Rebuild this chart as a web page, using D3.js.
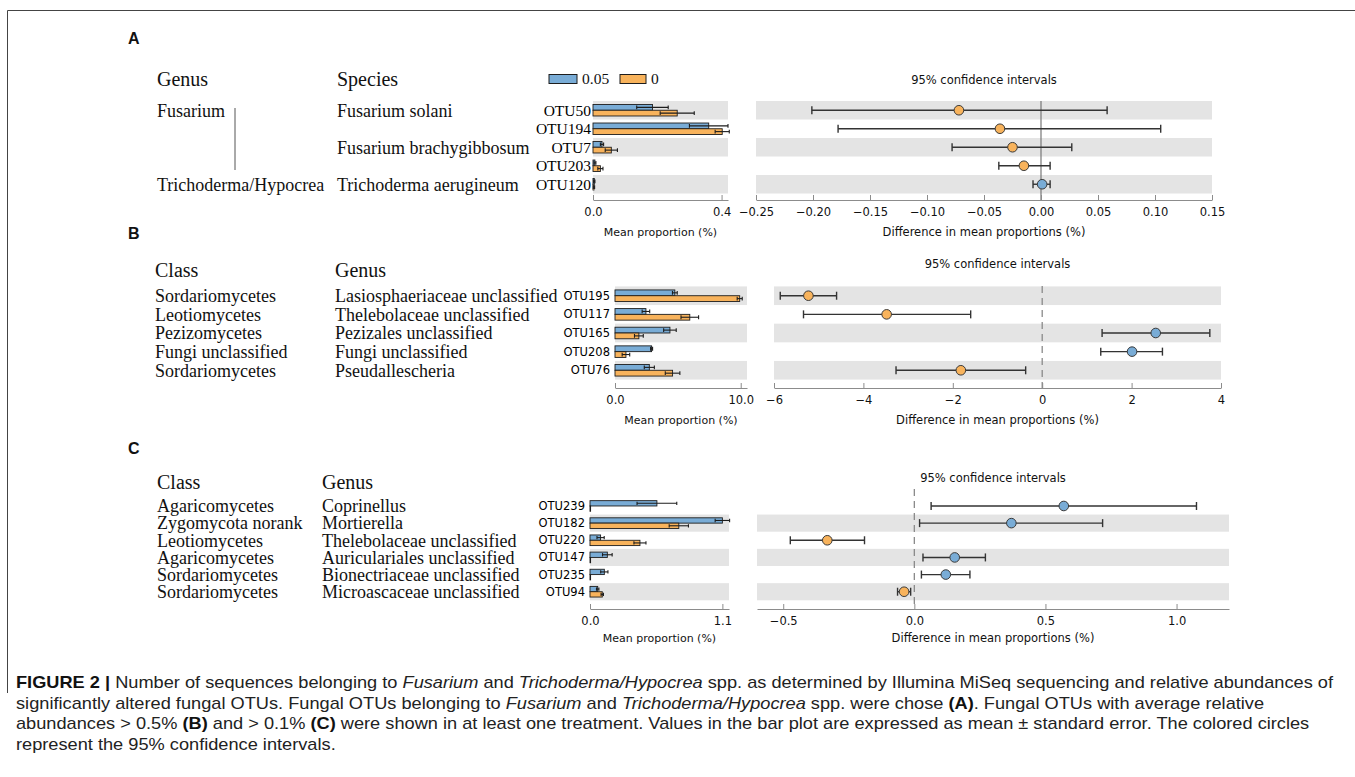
<!DOCTYPE html>
<html>
<head>
<meta charset="utf-8">
<script src="https://cdn.jsdelivr.net/npm/d3@7"></script>
<style>
  body { margin: 0; background: #fff; }
  svg { display: block; }
</style>
</head>
<body>
<svg id="fig" width="1355" height="777"></svg>
<script>
// ---------- Panel A: Fusarium and Trichoderma/Hypocrea OTUs ----------
const aCol1 = ["Fusarium", "", "", "", "Trichoderma/Hypocrea"];
const aCol2 = ["Fusarium solani", "", "Fusarium brachygibbosum", "", "Trichoderma aerugineum"];
const aOTU = ["OTU50", "OTU194", "OTU7", "OTU203", "OTU120"];
const aMean005 = [0.185, 0.360, 0.028, 0.006, 0.004];
const aErr005 = [0.049, 0.060, 0.005, 0.003, 0.002];
const aMean0 = [0.262, 0.402, 0.057, 0.023, 0.003];
const aErr0 = [0.053, 0.022, 0.019, 0.008, 0.002];
const aDiff = [-0.072, -0.036, -0.025, -0.015, 0.001];
const aLow = [-0.201, -0.178, -0.078, -0.037, -0.007];
const aHigh = [0.058, 0.105, 0.027, 0.008, 0.008];
const aBarTicks = [0, 0.4];
const aBarTickLabels = ["0.0", "0.4"];
const aCiTicks = [-0.25, -0.20, -0.15, -0.10, -0.05, 0, 0.05, 0.10, 0.15];
const aCiTickLabels = ["\u22120.25", "\u22120.20", "\u22120.15", "\u22120.10", "\u22120.05", "0.00", "0.05", "0.10", "0.15"];

// ---------- Panel B: OTUs with mean relative abundance > 0.5% ----------
const bCol1 = ["Sordariomycetes", "Leotiomycetes", "Pezizomycetes", "Fungi unclassified", "Sordariomycetes"];
const bCol2 = ["Lasiosphaeriaceae unclassified", "Thelebolaceae unclassified", "Pezizales unclassified", "Fungi unclassified", "Pseudallescheria"];
const bOTU = ["OTU195", "OTU117", "OTU165", "OTU208", "OTU76"];
const bMean005 = [4.76, 2.46, 4.37, 2.91, 2.73];
const bErr005 = [0.19, 0.30, 0.50, 0.08, 0.40];
const bMean0 = [9.92, 5.95, 1.90, 0.87, 4.58];
const bErr0 = [0.20, 0.70, 0.35, 0.30, 0.58];
const bDiff = [-5.23, -3.48, 2.54, 2.01, -1.82];
const bLow = [-5.86, -5.34, 1.34, 1.31, -3.27];
const bHigh = [-4.60, -1.60, 3.75, 2.69, -0.37];
const bBarTicks = [0, 10];
const bBarTickLabels = ["0.0", "10.0"];
const bCiTicks = [-6, -4, -2, 0, 2, 4];
const bCiTickLabels = ["\u22126", "\u22124", "\u22122", "0", "2", "4"];

// ---------- Panel C: OTUs with mean relative abundance > 0.1% ----------
const cCol1 = ["Agaricomycetes", "Zygomycota norank", "Leotiomycetes", "Agaricomycetes", "Sordariomycetes", "Sordariomycetes"];
const cCol2 = ["Coprinellus", "Mortierella", "Thelebolaceae unclassified", "Auriculariales unclassified", "Bionectriaceae unclassified", "Microascaceae unclassified"];
const cOTU = ["OTU239", "OTU182", "OTU220", "OTU147", "OTU235", "OTU94"];
const cMean005 = [0.556, 1.100, 0.088, 0.144, 0.119, 0.064];
const cErr005 = [0.165, 0.060, 0.030, 0.040, 0.030, 0.010];
const cMean0 = [0.004, 0.738, 0.415, 0.003, 0.003, 0.102];
const cErr0 = [0.000, 0.080, 0.050, 0.000, 0.000, 0.010];
const cDiff = [0.570, 0.370, -0.332, 0.154, 0.120, -0.039];
const cLow = [0.064, 0.020, -0.473, 0.033, 0.027, -0.064];
const cHigh = [1.076, 0.718, -0.190, 0.271, 0.212, -0.014];
const cBarTicks = [0, 1.1];
const cBarTickLabels = ["0.0", "1.1"];
const cCiTicks = [-0.5, 0, 0.5, 1.0];
const cCiTickLabels = ["\u22120.5", "0.0", "0.5", "1.0"];

// Treatment legend
const treatments = ["0.05", "0"];

// ---------- styling ----------
const COL_005 = "#79acd6";
const COL_0 = "#f8b35c";
const BAND = "#e4e4e4";
const AXIS = "#8c8c8c";
const SERIF = "'Liberation Serif','Times New Roman',serif";
const SANS = "'DejaVu Sans',sans-serif";

const svg = d3.select("#fig");

// Figure frame (top and left rules)
svg.append("line").attr("x1", 7.5).attr("x2", 1355).attr("y1", 10.5).attr("y2", 10.5)
  .attr("stroke", "#444").attr("stroke-width", 1);
svg.append("line").attr("x1", 7.5).attr("x2", 7.5).attr("y1", 10.5).attr("y2", 693)
  .attr("stroke", "#444").attr("stroke-width", 1);

function drawPanel(d, L) {
  const g = svg.append("g");
  const n = d.otu.length;
  const idx = d3.range(n);
  const y = d3.scaleBand().domain(idx).range(L.rows);
  const bw = y.bandwidth();
  const xb = d3.scaleLinear().domain(L.barDomain).range(L.barRange);
  const xc = d3.scaleLinear().domain(L.ciDomain).range(L.ciRange);
  const shaded = idx.filter(i => (n - 1 - i) % 2 === 0);

  // panel letter
  g.append("text").attr("x", L.letter[0]).attr("y", L.letter[1])
    .attr("font-family", "'Liberation Sans',Arial,sans-serif").attr("font-weight", "bold")
    .attr("font-size", 16).attr("fill", "#111").text(d.letter);

  // column headers
  L.headers.forEach((h, k) => {
    g.append("text").attr("x", h).attr("y", L.headerY).attr("dy", "0.35em")
      .attr("font-family", SERIF).attr("font-size", 20).attr("fill", "#111").text(d.headers[k]);
  });

  // taxonomy columns
  [d.col1, d.col2].forEach((col, k) => {
    g.selectAll(null).data(idx).enter().append("text")
      .attr("x", L.cols[k]).attr("y", i => y(i) + bw / 2).attr("dy", "0.35em")
      .attr("font-family", SERIF).attr("font-size", 18).attr("fill", "#111")
      .text(i => col[i]);
  });

  if (L.bracket) {
    g.append("line").attr("x1", L.bracket[0]).attr("x2", L.bracket[0])
      .attr("y1", L.bracket[1]).attr("y2", L.bracket[2])
      .attr("stroke", "#555").attr("stroke-width", 1);
  }

  // OTU labels
  g.selectAll(null).data(idx).enter().append("text")
    .attr("x", L.otuX).attr("y", i => y(i) + bw / 2).attr("dy", "0.35em")
    .attr("text-anchor", "end")
    .attr("font-family", L.otuSerif ? SERIF : SANS)
    .attr("font-size", L.otuSerif ? 15.5 : 11.5).attr("fill", "#000")
    .text(i => d.otu[i]);

  // ---- mean proportion bar plot ----
  g.selectAll(null).data(shaded).enter().append("rect")
    .attr("x", L.barRange[0]).attr("width", L.barRange[1] - L.barRange[0])
    .attr("y", i => y(i)).attr("height", bw).attr("fill", BAND);

  const bh = bw * 0.31;
  const series = [
    { mean: d.m005, err: d.e005, col: COL_005, off: -bh },
    { mean: d.m0, err: d.e0, col: COL_0, off: 0 }
  ];
  series.forEach(s => {
    const cy = i => y(i) + bw / 2 + s.off;
    g.selectAll(null).data(idx).enter().append("rect")
      .attr("x", xb(0)).attr("y", cy)
      .attr("width", i => Math.max(0.6, xb(s.mean[i]) - xb(0))).attr("height", bh)
      .attr("fill", s.col).attr("stroke", "#1d1d1d").attr("stroke-width", 0.9);
    const eb = g.selectAll(null).data(idx.filter(i => s.err[i] > 0)).enter().append("g")
      .attr("stroke", "#1d1d1d").attr("stroke-width", 1.1);
    eb.append("line")
      .attr("x1", i => xb(Math.max(0, s.mean[i] - s.err[i]))).attr("x2", i => xb(s.mean[i] + s.err[i]))
      .attr("y1", i => cy(i) + bh / 2).attr("y2", i => cy(i) + bh / 2);
    eb.append("line")
      .attr("x1", i => xb(s.mean[i] + s.err[i])).attr("x2", i => xb(s.mean[i] + s.err[i]))
      .attr("y1", i => cy(i) + 1).attr("y2", i => cy(i) + bh - 1);
    eb.append("line")
      .attr("x1", i => xb(Math.max(0, s.mean[i] - s.err[i]))).attr("x2", i => xb(Math.max(0, s.mean[i] - s.err[i])))
      .attr("y1", i => cy(i) + 1).attr("y2", i => cy(i) + bh - 1);
  });

  const barAxis = g.append("g").attr("transform", `translate(0,${L.axisY})`)
    .call(d3.axisBottom(xb).tickValues(d.barTicks).tickFormat((v, k) => d.barTickLabels[k])
      .tickSizeInner(-5).tickSizeOuter(0).tickPadding(8));
  styleAxis(barAxis);
  g.append("text").attr("x", (L.barRange[0] + L.barRange[1]) / 2).attr("y", L.axisY + L.titleGap)
    .attr("dy", "0.35em").attr("text-anchor", "middle")
    .attr("font-family", SANS).attr("font-size", 11).attr("fill", "#111").text("Mean proportion (%)");

  // ---- confidence interval plot ----
  g.selectAll(null).data(shaded).enter().append("rect")
    .attr("x", L.ciRange[0]).attr("width", L.ciRange[1] - L.ciRange[0])
    .attr("y", i => y(i)).attr("height", bw).attr("fill", BAND);

  g.append("line").attr("x1", xc(0)).attr("x2", xc(0))
    .attr("y1", L.zeroTop).attr("y2", L.axisY)
    .attr("stroke", L.zeroDash ? "#8a8a8a" : "#777").attr("stroke-width", L.zeroDash ? 1.3 : 1.2)
    .attr("stroke-dasharray", L.zeroDash ? "7,5" : null);

  const ci = g.selectAll(null).data(idx).enter().append("g")
    .attr("stroke", "#333").attr("stroke-width", 1.4);
  ci.append("line").attr("x1", i => xc(d.low[i])).attr("x2", i => xc(d.high[i]))
    .attr("y1", i => y(i) + bw / 2).attr("y2", i => y(i) + bw / 2);
  ci.append("line").attr("x1", i => xc(d.low[i])).attr("x2", i => xc(d.low[i]))
    .attr("y1", i => y(i) + bw / 2 - 4).attr("y2", i => y(i) + bw / 2 + 4);
  ci.append("line").attr("x1", i => xc(d.high[i])).attr("x2", i => xc(d.high[i]))
    .attr("y1", i => y(i) + bw / 2 - 4).attr("y2", i => y(i) + bw / 2 + 4);
  g.selectAll(null).data(idx).enter().append("circle")
    .attr("cx", i => xc(d.diff[i])).attr("cy", i => y(i) + bw / 2).attr("r", 4.8)
    .attr("fill", i => d.diff[i] > 0 ? COL_005 : COL_0)
    .attr("stroke", "#3a3a3a").attr("stroke-width", 1);

  const ciAxis = g.append("g").attr("transform", `translate(0,${L.axisY})`)
    .call(d3.axisBottom(xc).tickValues(d.ciTicks).tickFormat((v, k) => d.ciTickLabels[k])
      .tickSizeInner(-5).tickSizeOuter(0).tickPadding(8));
  styleAxis(ciAxis);
  g.append("text").attr("x", (L.ciRange[0] + L.ciRange[1]) / 2).attr("y", L.axisY + L.titleGap)
    .attr("dy", "0.35em").attr("text-anchor", "middle")
    .attr("font-family", SANS).attr("font-size", 11.5).attr("fill", "#111").text("Difference in mean proportions (%)");
  g.append("text").attr("x", (L.ciRange[0] + L.ciRange[1]) / 2).attr("y", L.ciTitleY)
    .attr("dy", "0.35em").attr("text-anchor", "middle")
    .attr("font-family", SANS).attr("font-size", 11.5).attr("fill", "#111").text("95% confidence intervals");

  // legend
  if (L.legend) {
    L.legend.forEach((lg, k) => {
      g.append("rect").attr("x", lg[0]).attr("y", L.headerY - 4.5).attr("width", lg[1]).attr("height", 9)
        .attr("fill", k === 0 ? COL_005 : COL_0).attr("stroke", "#1d1d1d").attr("stroke-width", 1);
      g.append("text").attr("x", lg[0] + lg[1] + 5).attr("y", L.headerY).attr("dy", "0.35em")
        .attr("font-family", SERIF).attr("font-size", 15.5).attr("fill", "#111").text(treatments[k]);
    });
  }
}

function styleAxis(ax) {
  ax.select(".domain").attr("stroke", AXIS).attr("stroke-width", 1.2);
  ax.selectAll(".tick line").attr("stroke", AXIS).attr("stroke-width", 1);
  ax.selectAll(".tick text").attr("font-family", SANS).attr("font-size", 11.5).attr("fill", "#111");
}

drawPanel(
  { letter: "A", headers: ["Genus", "Species"], col1: aCol1, col2: aCol2, otu: aOTU,
    m005: aMean005, e005: aErr005, m0: aMean0, e0: aErr0,
    diff: aDiff, low: aLow, high: aHigh,
    barTicks: aBarTicks, barTickLabels: aBarTickLabels, ciTicks: aCiTicks, ciTickLabels: aCiTickLabels },
  { letter: [128, 44], headerY: 79, headers: [157, 337], cols: [157, 337], bracket: [235, 108, 170],
    otuX: 591, otuSerif: true, rows: [101, 193.5],
    barDomain: [0, 0.42], barRange: [593, 728], ciDomain: [-0.25, 0.15], ciRange: [756, 1212],
    axisY: 200, titleGap: 32, zeroTop: 101, zeroDash: false, ciTitleY: 80,
    legend: [[549, 28], [620, 26]] }
);

drawPanel(
  { letter: "B", headers: ["Class", "Genus"], col1: bCol1, col2: bCol2, otu: bOTU,
    m005: bMean005, e005: bErr005, m0: bMean0, e0: bErr0,
    diff: bDiff, low: bLow, high: bHigh,
    barTicks: bBarTicks, barTickLabels: bBarTickLabels, ciTicks: bCiTicks, ciTickLabels: bCiTickLabels },
  { letter: [128, 239], headerY: 270, headers: [155, 335], cols: [155, 335],
    otuX: 610, otuSerif: false, rows: [286.4, 379.6],
    barDomain: [0, 10.5], barRange: [615, 747], ciDomain: [-6, 4], ciRange: [774, 1221],
    axisY: 388, titleGap: 32, zeroTop: 286, zeroDash: true, ciTitleY: 264 }
);

drawPanel(
  { letter: "C", headers: ["Class", "Genus"], col1: cCol1, col2: cCol2, otu: cOTU,
    m005: cMean005, e005: cErr005, m0: cMean0, e0: cErr0,
    diff: cDiff, low: cLow, high: cHigh,
    barTicks: cBarTicks, barTickLabels: cBarTickLabels, ciTicks: cCiTicks, ciTickLabels: cCiTickLabels },
  { letter: [128, 454], headerY: 482, headers: [157, 322], cols: [157, 322],
    otuX: 585, otuSerif: false, rows: [497.4, 600.3],
    barDomain: [0, 1.155], barRange: [590, 729], ciDomain: [-0.6, 1.2], ciRange: [757, 1229],
    axisY: 609, titleGap: 29, zeroTop: 489, zeroDash: true, ciTitleY: 478 }
);

// ---------- caption ----------
const captionLines = [
  [["b", "FIGURE 2 | "], ["", "Number of sequences belonging to "], ["i", "Fusarium"], ["", " and "],
   ["i", "Trichoderma/Hypocrea"], ["", " spp. as determined by Illumina MiSeq sequencing and relative abundances of"]],
  [["", "significantly altered fungal OTUs. Fungal OTUs belonging to "], ["i", "Fusarium"], ["", " and "],
   ["i", "Trichoderma/Hypocrea"], ["", " spp. were chose "], ["b", "(A)"], ["", ". Fungal OTUs with average relative"]],
  [["", "abundances > 0.5% "], ["b", "(B)"], ["", " and > 0.1% "], ["b", "(C)"],
   ["", " were shown in at least one treatment. Values in the bar plot are expressed as mean \u00b1 standard error. The colored circles"]],
  [["", "represent the 95% confidence intervals."]]
];
const captionY = [688, 709, 729, 750];

// Condensed caption: one common horizontal squeeze so that the first line spans the figure width
const capTexts = captionLines.map((parts, k) => {
  const t = svg.append("text").attr("x", 16).attr("y", captionY[k])
    .attr("font-family", "'Liberation Sans',Arial,sans-serif")
    .attr("font-size", 17).attr("fill", "#222");
  parts.forEach(p => {
    const s = t.append("tspan").text(p[1]);
    if (p[0] === "b") s.attr("font-weight", "bold").attr("fill", "#111");
    if (p[0] === "i") s.attr("font-style", "italic");
  });
  return t;
});
const natural = capTexts.map(t => t.node().getComputedTextLength());
const squeeze = 1317 / natural[0];
capTexts.forEach((t, k) => {
  t.attr("textLength", (natural[k] * squeeze).toFixed(1)).attr("lengthAdjust", "spacingAndGlyphs");
});
</script>
</body>
</html>
